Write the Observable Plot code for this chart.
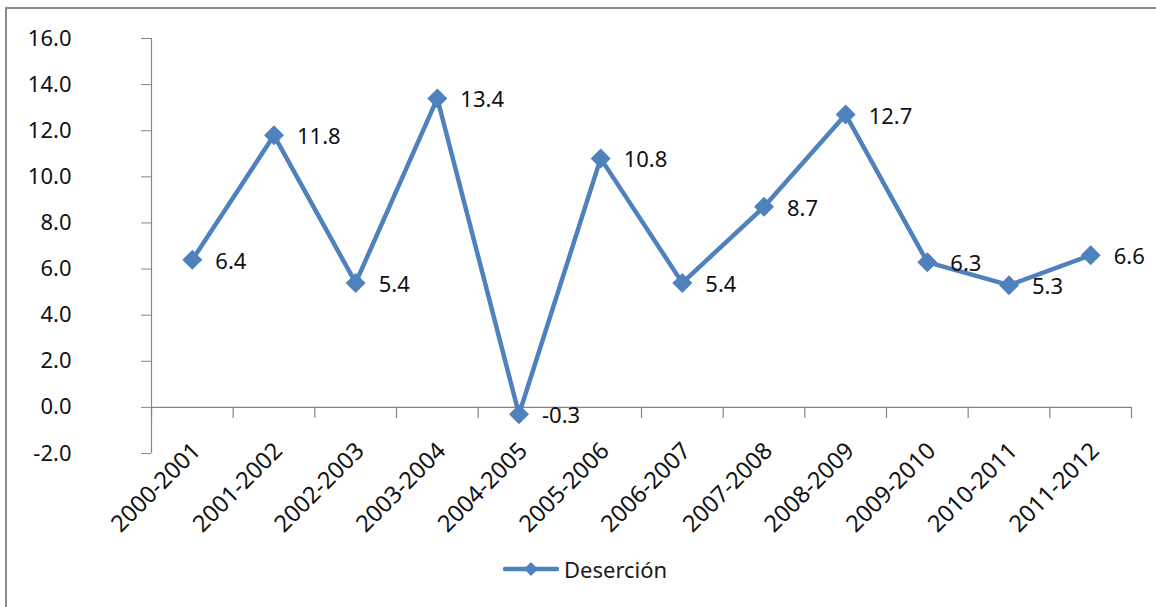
<!DOCTYPE html>
<html><head><meta charset="utf-8">
<script src="https://cdn.jsdelivr.net/npm/d3@7"></script>
<script src="https://cdn.jsdelivr.net/npm/@observablehq/plot@0.6"></script>
<style>
html,body{margin:0;padding:0;background:#fff;}
body{width:1156px;height:607px;position:relative;overflow:hidden;font-family:"Noto Sans",sans-serif;}
#border{position:absolute;left:5px;top:7px;width:1200px;height:700px;border-left:2px solid #898989;border-top:2px solid #898989;}
#chart{position:absolute;left:0;top:0;}
#legend{position:absolute;left:503px;top:554px;height:30px;line-height:30px;display:flex;align-items:center;font-size:22px;color:#1a1a1a;}
</style></head><body>
<div id="border"></div>
<div id="chart"></div>
<div id="legend"><svg width="56" height="20"><line x1="2" y1="10" x2="54" y2="10" stroke="#4F81BD" stroke-width="4.5" stroke-linecap="round"/><path d="M28,3 L35,10 L28,17 L21,10Z" fill="#4F81BD"/></svg><span style="margin-left:5px">Deserción</span></div>
<script>
const periods = ["2000-2001","2001-2002","2002-2003","2003-2004","2004-2005","2005-2006","2006-2007","2007-2008","2008-2009","2009-2010","2010-2011","2011-2012"];
const desercion = [6.4, 11.8, 5.4, 13.4, -0.3, 10.8, 5.4, 8.7, 12.7, 6.3, 5.3, 6.6];
const yTicks = [-2, 0, 2, 4, 6, 8, 10, 12, 14, 16];

const data = periods.map((p, i) => ({periodo: p, i, valor: desercion[i]}));
const boundaries = d3.range(periods.length + 1);
const color = "#4F81BD";
const axisColor = "#868686";
const tickShape = {draw(ctx, l) { ctx.moveTo(0, 0); ctx.lineTo(0, -l); }};

const chart = Plot.plot({
  width: 1156,
  height: 607,
  marginTop: 38,
  marginBottom: 154,
  marginLeft: 151,
  marginRight: 25,
  style: {fontSize: "22px", fontFamily: "'Noto Sans', sans-serif", color: "#111", background: "transparent"},
  x: {type: "linear", domain: [0, periods.length], axis: null},
  y: {domain: [-2, 16], axis: null},
  marks: [
    Plot.ruleX([0], {y1: -2, y2: 16, stroke: axisColor, strokeWidth: 1.2}),
    Plot.axisY(yTicks, {anchor: "left", tickSize: 10, tickPadding: 70, tickFormat: d => d.toFixed(1), stroke: axisColor, label: null}),
    Plot.ruleY([0], {stroke: axisColor, strokeWidth: 1.2}),
    Plot.vector(boundaries, {x: d => d, y: () => 0, length: 10, rotate: 180, anchor: "start", shape: tickShape, stroke: axisColor, strokeWidth: 1.2}),
    Plot.text(data, {x: d => d.i + 0.5, y: () => 0, text: "periodo", rotate: -45, textAnchor: "end", lineAnchor: "top", dx: -2, dy: 33, fontSize: 23.5, fill: "#111"}),
    Plot.line(data, {x: d => d.i + 0.5, y: "valor", stroke: color, strokeWidth: 4.5, strokeLinejoin: "miter"}),
    Plot.dot(data, {x: d => d.i + 0.5, y: "valor", symbol: "diamond2", r: 9, fill: color, stroke: null}),
    Plot.text(data, {x: d => d.i + 0.5, y: "valor", text: d => d.valor.toFixed(1), textAnchor: "start", dx: 23, dy: 2, fill: "#111"})
  ]
});
document.getElementById("chart").appendChild(chart);
</script>
</body></html>
